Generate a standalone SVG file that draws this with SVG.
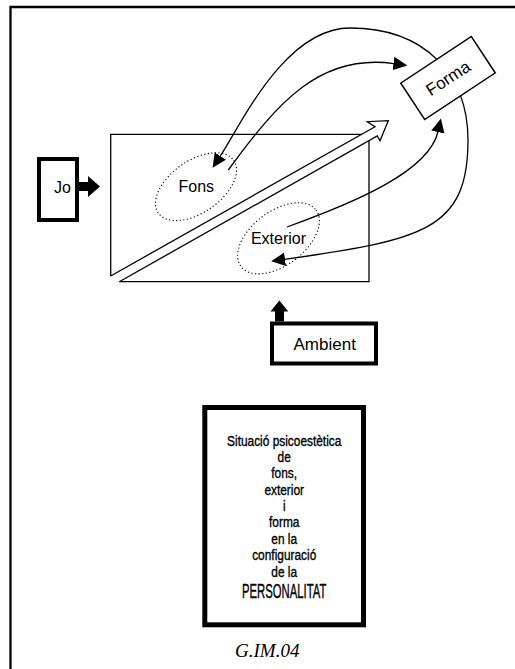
<svg xmlns="http://www.w3.org/2000/svg" width="515" height="669" viewBox="0 0 515 669">
<style>
.thin{fill:none;stroke:#000;stroke-width:1.3}
.dot{fill:none;stroke:#000;stroke-width:1.1;stroke-dasharray:1.2 2.4}
.lbl{font-family:"Liberation Sans",Arial,sans-serif;fill:#000}
.cond{font-family:"Liberation Sans",Arial,sans-serif;font-size:14.5px;fill:#000;stroke:#000;stroke-width:0.35;text-anchor:middle}
.box{fill:#fff;stroke:#000;stroke-width:4}
.curve{fill:none;stroke:#000;stroke-width:1.3;marker-end:url(#ah)}
</style>
<defs>
<marker id="ah" markerUnits="userSpaceOnUse" markerWidth="14" markerHeight="14" viewBox="0 0 12.5 12" refX="0.5" refY="6" orient="auto-start-reverse">
<path d="M0,0 L12.5,6 L0,12 z" fill="#000"/>
</marker>
</defs>
<rect width="515" height="669" fill="#fff"/>
<path d="M10.5,669 V7 H515" fill="none" stroke="#000" stroke-width="2.3"/>

<g id="camp">
<path class="thin" d="M119.3,281.7 H369 V134.3 H110.7 V276"/>
<path d="M110.7,276 L375,126.7 L367.3,121.7 L388.3,120.7 L380,140.7 L377.3,136 L119.3,281.7" fill="#fff" stroke="#000" stroke-width="1.3" stroke-linejoin="miter"/>
</g>

<g id="fons">
<ellipse class="dot" cx="196" cy="186.7" rx="46" ry="26" transform="rotate(-35 196 186.7)"/>
<text class="lbl" x="196.3" y="191.7" font-size="16" text-anchor="middle">Fons</text>
</g>

<g id="exterior">
<ellipse class="dot" cx="278.5" cy="238.3" rx="47" ry="27" transform="rotate(-37 278.5 238.3)"/>
<text class="lbl" x="278.5" y="244" font-size="16" text-anchor="middle">Exterior</text>
</g>

<g id="connectors">
<path class="curve" style="marker-start:url(#ah)" d="M220,156.5 C241,124.6 285,28 350,28 C425,28 468,75 468,140 C468,230 423,240 284.5,259.3"/>
<path class="curve" d="M228.3,170 C278.6,101 321,53.3 394,63.6"/>
<path class="curve" d="M287,227 C353,203.2 429,171.8 438,131.5"/>
<path d="M79,182 H88 V176 L100,186.5 L88,197 V191 H79 z" fill="#000"/>
<path d="M275,321.5 V311.5 H270.5 L279.4,300.5 L288.3,311.5 H284 V321.5 z" fill="#000"/>
</g>

<g id="forma" transform="translate(448,78) rotate(-33.4)">
<rect x="-42.25" y="-21.75" width="84.5" height="43.5" fill="#fff" stroke="#000" stroke-width="1.5"/>
<text class="lbl" x="0" y="6" font-size="17" text-anchor="middle">Forma</text>
</g>

<g id="jo">
<rect class="box" x="39" y="159" width="38" height="61"/>
<text class="lbl" x="62.5" y="192.5" font-size="16" text-anchor="middle">Jo</text>
</g>

<g id="ambient">
<rect class="box" x="272" y="323.5" width="104" height="40"/>
<text class="lbl" x="324.7" y="350" font-size="17" text-anchor="middle">Ambient</text>
</g>

<g id="situacio">
<rect x="204.8" y="407.5" width="158.7" height="217.3" fill="#fff" stroke="#000" stroke-width="5"/>
<g transform="translate(284.2,0) scale(0.82,1)">
<text class="cond" x="0" y="446">Situació psicoestètica</text>
<text class="cond" x="0" y="462">de</text>
<text class="cond" x="0" y="478.5">fons,</text>
<text class="cond" x="0" y="495">exterior</text>
<text class="cond" x="0" y="511">i</text>
<text class="cond" x="0" y="527.5">forma</text>
<text class="cond" x="0" y="544">en la</text>
<text class="cond" x="0" y="560.5">configuració</text>
<text class="cond" x="0" y="577">de la</text>
</g>
<g transform="translate(284.2,0) scale(0.551,1)">
<text class="lbl" x="0" y="598.5" font-size="20.5" text-anchor="middle" stroke="#000" stroke-width="0.4">PERSONALITAT</text>
</g>
</g>

<text x="267.2" y="656.7" font-family="'Liberation Serif','Times New Roman',serif" font-style="italic" font-size="19" text-anchor="middle" fill="#000">G.IM.04</text>
</svg>
